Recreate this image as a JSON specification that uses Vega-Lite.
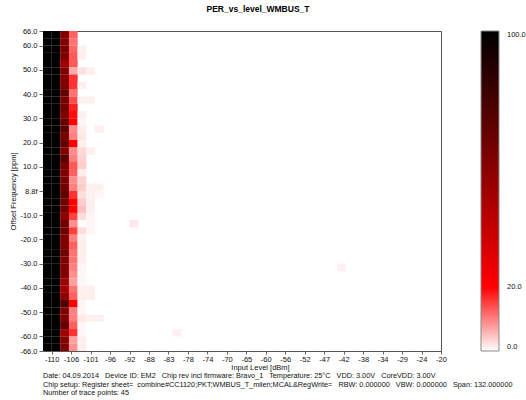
{
  "$schema": "https://vega.github.io/schema/vega-lite/v6.json",
  "background": "white",
  "padding": {"left": 9, "top": 4, "right": 0, "bottom": 0},
  "title": {"text": ["Date: 04.09.2014 \u00a0 Device ID: EM2 \u00a0 Chip rev incl firmware: Bravo_1 \u00a0 Temperature: 25°C \u00a0 VDD: 3.00V \u00a0 CoreVDD: 3.00V", "Chip setup: Register sheet= \u00a0combine#CC1120;PKT;WMBUS_T_milen;MCAL&RegWrite= \u00a0 RBW: 0.000000 \u00a0 VBW: 0.000000 \u00a0 Span: 132.000000", "Number of trace points: 45"], "orient": "bottom", "anchor": "start", "frame": "group", "dx": 0, "font": "Liberation Sans", "fontSize": 7.3, "fontWeight": "normal", "lineHeight": 8.6, "offset": 1, "color": "#111"},
  "config": {
    "view": {"stroke": "#555", "strokeWidth": 1},
    "concat": {"spacing": 0},
    "axis": {"labelFont": "Liberation Sans", "titleFont": "Liberation Sans", "labelFontSize": 7.5, "titleFontSize": 7.5, "labelColor": "#111", "titleColor": "#111", "titleFontWeight": "normal", "grid": false, "domain": false, "tickColor": "#666"}
  },
  "vconcat": [
    {
      "width": 398,
      "height": 320,
      "title": {"text": "PER_vs_level_WMBUS_T", "font": "Liberation Sans", "fontSize": 8.5, "fontWeight": "bold", "color": "#000", "anchor": "middle", "frame": "group", "dx": 16, "offset": 14},
      "data": {"values": [
        {"level":-111,"offset":64.5,"per":100},{"level":-109,"offset":64.5,"per":100},{"level":-107,"offset":64.5,"per":60},{"level":-105,"offset":64.5,"per":12.5},
        {"level":-111,"offset":61.5,"per":100},{"level":-109,"offset":61.5,"per":100},{"level":-107,"offset":61.5,"per":60},{"level":-105,"offset":61.5,"per":11},
        {"level":-111,"offset":58.5,"per":100},{"level":-109,"offset":58.5,"per":100},{"level":-107,"offset":58.5,"per":62},{"level":-105,"offset":58.5,"per":12},{"level":-103,"offset":58.5,"per":1.2},
        {"level":-111,"offset":55.5,"per":100},{"level":-109,"offset":55.5,"per":100},{"level":-107,"offset":55.5,"per":60},{"level":-105,"offset":55.5,"per":13},{"level":-103,"offset":55.5,"per":1.2},
        {"level":-111,"offset":52.5,"per":100},{"level":-109,"offset":52.5,"per":100},{"level":-107,"offset":52.5,"per":50},{"level":-105,"offset":52.5,"per":13},
        {"level":-111,"offset":49.5,"per":100},{"level":-109,"offset":49.5,"per":100},{"level":-107,"offset":49.5,"per":60},{"level":-105,"offset":49.5,"per":6.7},{"level":-103,"offset":49.5,"per":2.4},{"level":-101,"offset":49.5,"per":1.3},
        {"level":-111,"offset":46.5,"per":100},{"level":-109,"offset":46.5,"per":100},{"level":-107,"offset":46.5,"per":58},{"level":-105,"offset":46.5,"per":16},
        {"level":-111,"offset":43.5,"per":100},{"level":-109,"offset":43.5,"per":100},{"level":-107,"offset":43.5,"per":60},{"level":-105,"offset":43.5,"per":16},{"level":-103,"offset":43.5,"per":1.2},
        {"level":-111,"offset":40.5,"per":100},{"level":-109,"offset":40.5,"per":100},{"level":-107,"offset":40.5,"per":68},{"level":-105,"offset":40.5,"per":11},
        {"level":-111,"offset":37.5,"per":100},{"level":-109,"offset":37.5,"per":100},{"level":-107,"offset":37.5,"per":62},{"level":-105,"offset":37.5,"per":14},{"level":-103,"offset":37.5,"per":1.2},{"level":-101,"offset":37.5,"per":1.2},
        {"level":-111,"offset":34.5,"per":100},{"level":-109,"offset":34.5,"per":100},{"level":-107,"offset":34.5,"per":65},{"level":-105,"offset":34.5,"per":17.5},
        {"level":-111,"offset":31.5,"per":100},{"level":-109,"offset":31.5,"per":100},{"level":-107,"offset":31.5,"per":60},{"level":-105,"offset":31.5,"per":19},{"level":-103,"offset":31.5,"per":1.2},
        {"level":-111,"offset":28.5,"per":100},{"level":-109,"offset":28.5,"per":100},{"level":-107,"offset":28.5,"per":68},{"level":-105,"offset":28.5,"per":20},{"level":-103,"offset":28.5,"per":0.8},
        {"level":-111,"offset":25.5,"per":100},{"level":-109,"offset":25.5,"per":100},{"level":-107,"offset":25.5,"per":72},{"level":-105,"offset":25.5,"per":9},{"level":-103,"offset":25.5,"per":1.5},{"level":-99,"offset":25.5,"per":1.2},
        {"level":-111,"offset":22.5,"per":100},{"level":-109,"offset":22.5,"per":100},{"level":-107,"offset":22.5,"per":62},{"level":-105,"offset":22.5,"per":10},{"level":-103,"offset":22.5,"per":1.8},
        {"level":-111,"offset":19.5,"per":100},{"level":-109,"offset":19.5,"per":100},{"level":-107,"offset":19.5,"per":70},{"level":-105,"offset":19.5,"per":20},{"level":-103,"offset":19.5,"per":1.2},
        {"level":-111,"offset":16.5,"per":100},{"level":-109,"offset":16.5,"per":100},{"level":-107,"offset":16.5,"per":60},{"level":-105,"offset":16.5,"per":9},{"level":-103,"offset":16.5,"per":3},{"level":-101,"offset":16.5,"per":1.2},
        {"level":-111,"offset":13.5,"per":100},{"level":-109,"offset":13.5,"per":100},{"level":-107,"offset":13.5,"per":72},{"level":-105,"offset":13.5,"per":10},{"level":-103,"offset":13.5,"per":3.5},
        {"level":-111,"offset":10.5,"per":100},{"level":-109,"offset":10.5,"per":100},{"level":-107,"offset":10.5,"per":62},{"level":-105,"offset":10.5,"per":13},{"level":-103,"offset":10.5,"per":4},
        {"level":-111,"offset":7.5,"per":100},{"level":-109,"offset":7.5,"per":100},{"level":-107,"offset":7.5,"per":60},{"level":-105,"offset":7.5,"per":12.5},{"level":-103,"offset":7.5,"per":1.5},
        {"level":-111,"offset":4.5,"per":100},{"level":-109,"offset":4.5,"per":100},{"level":-107,"offset":4.5,"per":62},{"level":-105,"offset":4.5,"per":9},{"level":-103,"offset":4.5,"per":3.5},
        {"level":-111,"offset":1.5,"per":100},{"level":-109,"offset":1.5,"per":100},{"level":-107,"offset":1.5,"per":65},{"level":-105,"offset":1.5,"per":10},{"level":-103,"offset":1.5,"per":4},{"level":-101,"offset":1.5,"per":1.2},{"level":-99,"offset":1.5,"per":1.2},
        {"level":-111,"offset":-1.5,"per":100},{"level":-109,"offset":-1.5,"per":100},{"level":-107,"offset":-1.5,"per":70},{"level":-105,"offset":-1.5,"per":16},{"level":-103,"offset":-1.5,"per":2.7},{"level":-101,"offset":-1.5,"per":1.2},{"level":-99,"offset":-1.5,"per":0.8},
        {"level":-111,"offset":-4.5,"per":100},{"level":-109,"offset":-4.5,"per":100},{"level":-107,"offset":-4.5,"per":65},{"level":-105,"offset":-4.5,"per":20},{"level":-103,"offset":-4.5,"per":4},{"level":-101,"offset":-4.5,"per":1.2},
        {"level":-111,"offset":-7.5,"per":100},{"level":-109,"offset":-7.5,"per":100},{"level":-107,"offset":-7.5,"per":65},{"level":-105,"offset":-7.5,"per":20},{"level":-103,"offset":-7.5,"per":5},{"level":-101,"offset":-7.5,"per":1.2},
        {"level":-111,"offset":-10.5,"per":100},{"level":-109,"offset":-10.5,"per":100},{"level":-107,"offset":-10.5,"per":55},{"level":-105,"offset":-10.5,"per":15},{"level":-103,"offset":-10.5,"per":2.7},{"level":-101,"offset":-10.5,"per":0.8},
        {"level":-111,"offset":-13.5,"per":100},{"level":-109,"offset":-13.5,"per":100},{"level":-107,"offset":-13.5,"per":65},{"level":-105,"offset":-13.5,"per":8.7},{"level":-101,"offset":-13.5,"per":0.8},
        {"level":-111,"offset":-16.5,"per":100},{"level":-109,"offset":-16.5,"per":100},{"level":-107,"offset":-16.5,"per":65},{"level":-105,"offset":-16.5,"per":15},{"level":-103,"offset":-16.5,"per":2.7},{"level":-101,"offset":-16.5,"per":0.8},
        {"level":-111,"offset":-19.5,"per":100},{"level":-109,"offset":-19.5,"per":100},{"level":-107,"offset":-19.5,"per":60},{"level":-105,"offset":-19.5,"per":10},{"level":-103,"offset":-19.5,"per":1.2},
        {"level":-111,"offset":-22.5,"per":100},{"level":-109,"offset":-22.5,"per":100},{"level":-107,"offset":-22.5,"per":60},{"level":-105,"offset":-22.5,"per":12.5},{"level":-103,"offset":-22.5,"per":1.3},
        {"level":-111,"offset":-25.5,"per":100},{"level":-109,"offset":-25.5,"per":100},{"level":-107,"offset":-25.5,"per":65},{"level":-105,"offset":-25.5,"per":11},{"level":-103,"offset":-25.5,"per":1.3},
        {"level":-111,"offset":-28.5,"per":100},{"level":-109,"offset":-28.5,"per":100},{"level":-107,"offset":-28.5,"per":60},{"level":-105,"offset":-28.5,"per":11},{"level":-103,"offset":-28.5,"per":1.3},
        {"level":-111,"offset":-31.5,"per":100},{"level":-109,"offset":-31.5,"per":100},{"level":-107,"offset":-31.5,"per":60},{"level":-105,"offset":-31.5,"per":10},{"level":-103,"offset":-31.5,"per":0.6},
        {"level":-111,"offset":-34.5,"per":100},{"level":-109,"offset":-34.5,"per":100},{"level":-107,"offset":-34.5,"per":60},{"level":-105,"offset":-34.5,"per":8.7},{"level":-103,"offset":-34.5,"per":0.6},
        {"level":-111,"offset":-37.5,"per":100},{"level":-109,"offset":-37.5,"per":100},{"level":-107,"offset":-37.5,"per":50},{"level":-105,"offset":-37.5,"per":7.5},{"level":-103,"offset":-37.5,"per":0.6},
        {"level":-111,"offset":-40.5,"per":100},{"level":-109,"offset":-40.5,"per":100},{"level":-107,"offset":-40.5,"per":50},{"level":-105,"offset":-40.5,"per":11},{"level":-103,"offset":-40.5,"per":1.2},{"level":-101,"offset":-40.5,"per":1.2},
        {"level":-111,"offset":-43.5,"per":100},{"level":-109,"offset":-43.5,"per":100},{"level":-107,"offset":-43.5,"per":55},{"level":-105,"offset":-43.5,"per":12.5},{"level":-103,"offset":-43.5,"per":1.2},{"level":-101,"offset":-43.5,"per":1.2},
        {"level":-111,"offset":-46.5,"per":100},{"level":-109,"offset":-46.5,"per":100},{"level":-107,"offset":-46.5,"per":75},{"level":-105,"offset":-46.5,"per":20},{"level":-103,"offset":-46.5,"per":0.6},
        {"level":-111,"offset":-49.5,"per":100},{"level":-109,"offset":-49.5,"per":100},{"level":-107,"offset":-49.5,"per":60},{"level":-105,"offset":-49.5,"per":10},{"level":-103,"offset":-49.5,"per":0.6},
        {"level":-111,"offset":-52.5,"per":100},{"level":-109,"offset":-52.5,"per":100},{"level":-107,"offset":-52.5,"per":60},{"level":-105,"offset":-52.5,"per":10},{"level":-103,"offset":-52.5,"per":1.8},{"level":-101,"offset":-52.5,"per":1.2},{"level":-99,"offset":-52.5,"per":1.2},
        {"level":-111,"offset":-55.5,"per":100},{"level":-109,"offset":-55.5,"per":100},{"level":-107,"offset":-55.5,"per":70},{"level":-105,"offset":-55.5,"per":12.5},{"level":-103,"offset":-55.5,"per":0.6},
        {"level":-111,"offset":-58.5,"per":100},{"level":-109,"offset":-58.5,"per":100},{"level":-107,"offset":-58.5,"per":50},{"level":-105,"offset":-58.5,"per":16},{"level":-103,"offset":-58.5,"per":0.6},
        {"level":-111,"offset":-61.5,"per":100},{"level":-109,"offset":-61.5,"per":100},{"level":-107,"offset":-61.5,"per":58},{"level":-105,"offset":-61.5,"per":7.5},{"level":-103,"offset":-61.5,"per":1.3},
        {"level":-111,"offset":-64.5,"per":100},{"level":-109,"offset":-64.5,"per":100},{"level":-107,"offset":-64.5,"per":60},{"level":-105,"offset":-64.5,"per":8.7},{"level":-103,"offset":-64.5,"per":1.3},
        {"level":-91,"offset":-13.5,"per":1.8},
        {"level":-43,"offset":-31.5,"per":1.2},
        {"level":-81,"offset":-58.5,"per":1.2}
      ]},
      "mark": {"type": "rect", "width": 8.8, "height": 7.4, "clip": true},
      "encoding": {
        "x": {"field": "level", "type": "quantitative", "scale": {"domain": [-112, -20], "nice": false, "zero": false},
          "axis": {"title": "Input Level [dBm]", "values": [-110,-105.5,-101,-96.5,-92,-87.5,-83,-78.5,-74,-69.5,-65,-60.5,-56,-51.5,-47,-42.5,-38,-33.5,-29,-24.5,-20],
            "labelExpr": "datum.value % 1 == 0 ? '' + datum.value : (floor(datum.value) % 2 == 0 ? '' + floor(datum.value) : '' + ceil(datum.value))",
            "tickSize": 3, "labelPadding": 1, "labelOverlap": false, "labelFlush": false, "labelBound": false, "titleX": 217, "titleY": 12}},
        "y": {"field": "offset", "type": "quantitative", "scale": {"domain": [-66, 66], "nice": false, "zero": false},
          "axis": {"title": "Offset Frequency [ppm]", "values": [66,60,50,40,30,20,10,0,-10,-20,-30,-40,-50,-60,-66],
            "labelExpr": "datum.value == 0 ? '8.8f' : (datum.value < 0 ? '-' : '') + format(abs(datum.value), '.1f')",
            "tickSize": 4, "labelPadding": 2, "labelOverlap": false, "titlePadding": 2}},
        "color": {"field": "per", "type": "quantitative",
          "scale": {"domain": [0, 20, 100], "range": ["#ffffff", "#ff0000", "#000000"], "interpolate": "rgb"},
          "legend": {"title": "PER [%]", "type": "gradient", "direction": "vertical", "values": [0, 20, 100], "labelExpr": "format(datum.value, '.1f')",
            "gradientLength": 320, "gradientThickness": 18, "offset": 34, "titleOrient": "right", "titleAngle": 90, "titleAnchor": "middle",
            "gradientStrokeColor": "#888", "gradientStrokeWidth": 1, "labelFont": "Liberation Sans", "labelFontSize": 7.5, "labelColor": "#111", "labelOffset": 8,
            "titleFont": "Liberation Sans", "titleFontSize": 7.5, "titleFontWeight": "normal", "titleColor": "#111"}}
      }
    }
  ]
}
